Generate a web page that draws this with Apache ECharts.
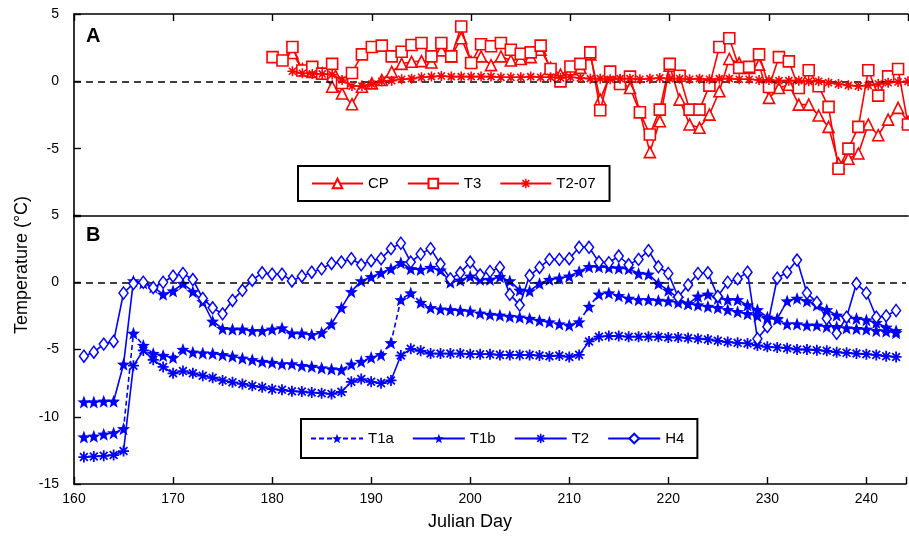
<!DOCTYPE html>
<html><head><meta charset="utf-8">
<script src="https://cdn.jsdelivr.net/npm/echarts@6/dist/echarts.min.js"></script>
<style>html,body{margin:0;padding:0;background:#fff}#c{width:909px;height:536px}</style>
</head><body><div id="c"></div>
<script>
// ---- data ----
const xTicks = [160,170,180,190,200,210,220,230,240];
const yTicksTop = [5,0,-5];
const yTicksBottom = [5,0,-5,-10,-15];

// Panel A (start day for each series, one value per day)
const cpStart = 182;
const cpValues = [2.1,0.9,0.7,0.6,-0.4,-0.9,-1.7,-0.4,-0.15,0.1,0.7,1.3,1.45,1.5,1.4,2.3,1.85,3.2,1.45,1.85,1.2,1.85,1.55,1.66,1.8,2.35,1.0,0.5,0.9,1.0,2.0,-1.36,0.5,0.0,-0.5,-2.3,-5.26,-2.96,1.16,-1.36,-3.2,-3.45,-2.47,-0.74,1.66,1.36,1.0,1.24,-1.23,-0.5,-0.25,-1.73,-1.73,-2.54,-3.38,-6.1,-5.75,-5.36,-3.2,-4.0,-2.84,-1.97,-3.0];
const t3Start = 180;
const t3Values = [1.8,1.55,2.55,0.8,1.07,0.57,1.3,-0.12,0.62,2.0,2.55,2.65,1.85,2.2,2.7,2.85,1.85,2.85,1.85,4.07,1.36,2.75,2.6,2.85,2.35,2.05,2.15,2.65,0.92,0.0,1.1,1.3,2.15,-2.15,0.72,-0.2,0.35,-2.3,-3.95,-2.1,1.3,0.42,-2.1,-2.1,-0.32,2.55,3.2,1.0,1.07,2.0,-0.42,1.8,1.48,-0.5,0.82,-0.37,-1.9,-6.49,-5.0,-3.38,0.82,-1.06,0.37,0.92,-3.2];
const t207Start = 182;
const t207Values = [0.75,0.6,0.55,0.55,0.5,0.1,-0.35,-0.35,-0.2,0.0,0.05,0.15,0.2,0.3,0.35,0.4,0.35,0.35,0.35,0.35,0.35,0.3,0.3,0.3,0.35,0.3,0.3,0.25,0.3,0.25,0.2,0.2,0.15,0.2,0.2,0.15,0.2,0.25,0.2,0.2,0.15,0.2,0.15,0.2,0.2,0.15,0.15,0.1,0.1,0.05,0.05,0.05,0.0,0.0,-0.1,-0.2,-0.3,-0.35,-0.3,-0.2,-0.1,-0.05,0.0];

// Panel B
const bStart = 161;
const t1aValues = [-11.5,-11.45,-11.3,-11.2,-10.9,-3.8,-4.7,-5.3,-5.45,-5.6,-5.0,-5.2,-5.27,-5.3,-5.4,-5.5,-5.65,-5.77,-5.9,-5.97,-6.07,-6.07,-6.2,-6.27,-6.37,-6.45,-6.5,-6.1,-5.9,-5.6,-5.4,-4.5,-1.3,-0.8,-1.5,-1.9,-2.0,-2.05,-2.1,-2.15,-2.3,-2.4,-2.45,-2.55,-2.6,-2.7,-2.85,-2.95,-3.1,-3.2,-2.95,-1.8,-0.9,-0.8,-1.0,-1.2,-1.3,-1.3,-1.35,-1.4,-1.5,-1.6,-1.7,-1.8,-1.9,-2.05,-2.2,-2.35,-2.5,-2.7,-2.75,-3.1,-3.1,-3.2,-3.2,-3.3,-3.3,-3.4,-3.45,-3.5,-3.6,-3.65,-3.75];
const t1bValues = [-8.9,-8.9,-8.85,-8.85,-6.1,0.1,-0.05,-0.35,-0.9,-0.65,-0.1,-0.7,-1.45,-2.9,-3.45,-3.5,-3.5,-3.6,-3.6,-3.5,-3.4,-3.8,-3.8,-3.9,-3.75,-3.1,-1.9,-0.7,0.1,0.4,0.7,1.0,1.45,1.0,0.95,1.1,0.9,0.0,0.15,0.45,0.2,0.2,0.4,0.1,-0.6,-0.65,-0.1,0.2,0.3,0.45,0.8,1.15,1.15,1.1,1.05,1.0,0.65,0.6,-0.1,-0.6,-1.2,-1.6,-1.05,-0.9,-1.2,-1.3,-1.3,-1.7,-2.05,-2.6,-2.7,-1.4,-1.2,-1.4,-1.7,-2.05,-2.45,-2.6,-2.7,-2.8,-3.0,-3.35,-3.6];
const t2Values = [-13.0,-12.95,-12.9,-12.85,-12.55,-6.2,-5.07,-5.77,-6.3,-6.77,-6.6,-6.77,-6.95,-7.1,-7.3,-7.44,-7.56,-7.7,-7.8,-7.95,-8.0,-8.1,-8.13,-8.2,-8.25,-8.3,-8.15,-7.4,-7.2,-7.4,-7.5,-7.3,-5.45,-4.95,-5.1,-5.3,-5.3,-5.3,-5.3,-5.35,-5.35,-5.35,-5.4,-5.4,-5.4,-5.4,-5.45,-5.5,-5.45,-5.55,-5.4,-4.4,-4.05,-4.0,-4.0,-4.05,-4.05,-4.05,-4.05,-4.1,-4.1,-4.15,-4.2,-4.25,-4.35,-4.45,-4.5,-4.55,-4.7,-4.8,-4.85,-4.9,-5.0,-5.0,-5.05,-5.1,-5.2,-5.25,-5.3,-5.35,-5.4,-5.5,-5.55];
const h4Values = [-5.5,-5.2,-4.6,-4.4,-0.8,-0.1,0.0,-0.4,0.0,0.45,0.65,0.2,-1.2,-1.9,-2.35,-1.35,-0.6,0.15,0.7,0.6,0.6,0.1,0.45,0.75,1.0,1.4,1.5,1.75,1.3,1.6,1.75,2.5,2.9,1.5,2.1,2.5,1.35,0.25,0.7,1.5,0.55,0.8,1.1,-0.9,-1.7,0.5,1.1,1.7,1.7,1.75,2.6,2.6,1.5,1.45,1.95,1.3,1.7,2.35,1.15,0.65,-1.1,-0.2,0.65,0.7,-1.05,0.0,0.25,0.75,-4.2,-3.3,0.3,0.75,1.65,-0.8,-1.5,-2.7,-3.8,-2.6,-0.1,-0.8,-2.6,-2.5,-2.1];

// ---- helpers (marker shapes, pairing) ----
function pairs(start, vals){ return vals.map((v,i)=>[start+i, v]); }
function starPath(){
  const p=[]; for(let i=0;i<10;i++){const r=i%2===0?1:0.42; const a=-Math.PI/2+i*Math.PI/5; p.push((r*Math.cos(a)).toFixed(3)+','+(r*Math.sin(a)).toFixed(3));}
  return 'path://M'+p.join(' L')+' Z';
}
function asteriskPath(n,w){
  let s='path://';
  for(let k=0;k<n;k++){const t=k*Math.PI/n, c=Math.cos(t), si=Math.sin(t);
    const pts=[[-1,-w],[1,-w],[1,w],[-1,w]].map(([x,y])=>[(x*c-y*si).toFixed(3),(x*si+y*c).toFixed(3)]);
    s+='M'+pts.map(q=>q.join(',')).join(' L')+' Z ';}
  return s.trim();
}
const STAR = starPath();
const AST = asteriskPath(4,0.16);
const RED='#ff0000', BLUE='#0000ff';
const FONT='Liberation Sans, Arial, sans-serif';

const zeroLine = {silent:true, symbol:'none', label:{show:false},
  lineStyle:{type:[7,5], color:'#000', width:1.6}, data:[{yAxis:0}], animation:false};

function xAx(grid, pos, showLabel){
  return {type:'value', gridIndex:grid, position:pos, min:160, max:244, interval:10,
    axisLine:{show:true, onZero:false, lineStyle:{color:'#000', width:1.6}},
    axisTick:{show:showLabel!==null, inside:true, length:7, lineStyle:{color:'#000', width:1.4}},
    axisLabel:{show:!!showLabel, margin:8, color:'#000', fontSize:14, fontFamily:FONT,
      formatter:v=> (xTicks.includes(v)) ? String(v) : ''},
    splitLine:{show:false}};
}

const chart = echarts.init(document.getElementById('c'), null, {renderer:'canvas'});
chart.setOption({
  animation:false,
  backgroundColor:'#fff',
  grid:[{left:74, right:1, top:14, height:202},{left:74, right:1, top:215, height:269}],
  xAxis:[ xAx(0,'bottom',null), xAx(0,'top',false), xAx(1,'bottom',true) ],
  yAxis:[
    {type:'value', gridIndex:0, min:-10, max:5, interval:5,
     axisLine:{show:true, lineStyle:{color:'#000', width:1.6}},
     axisTick:{show:true, inside:true, length:7, lineStyle:{color:'#000', width:1.4}},
     axisLabel:{margin:15, color:'#000', fontSize:14, fontFamily:FONT, formatter:v=> yTicksTop.includes(v)? String(v):''},
     splitLine:{show:false}},
    {type:'value', gridIndex:1, min:-15, max:5, interval:5,
     axisLine:{show:true, lineStyle:{color:'#000', width:1.6}},
     axisTick:{show:true, inside:true, length:7, lineStyle:{color:'#000', width:1.4}},
     axisLabel:{margin:15, color:'#000', fontSize:14, fontFamily:FONT, formatter:v=> yTicksBottom.includes(v)? String(v):''},
     splitLine:{show:false}}
  ],
  legend:[
    {left:298, top:166, orient:'horizontal', selectedMode:false, itemWidth:51, itemHeight:12, itemGap:18,
     padding:[10,14,10,13], borderColor:'#000', borderWidth:2, backgroundColor:'#fff',
     textStyle:{color:'#000', fontSize:15, fontFamily:FONT}, data:['CP','T3','T2-07']},
    {left:301, top:419, orient:'horizontal', selectedMode:false, itemWidth:52, itemHeight:12, itemGap:18,
     padding:[12,13,12,9], borderColor:'#000', borderWidth:2, backgroundColor:'#fff',
     textStyle:{color:'#000', fontSize:15, fontFamily:FONT}, data:['T1a','T1b','T2','H4']}
  ],
  series:[
    {name:'CP', type:'line', xAxisIndex:0, yAxisIndex:0, data:pairs(cpStart,cpValues),
     symbol:'triangle', symbolSize:11, lineStyle:{color:RED, width:1.6},
     itemStyle:{color:'#fff', borderColor:RED, borderWidth:1.6}, markLine:zeroLine, z:3},
    {name:'T3', type:'line', xAxisIndex:0, yAxisIndex:0, data:pairs(t3Start,t3Values),
     symbol:'rect', symbolSize:11, lineStyle:{color:RED, width:1.6},
     itemStyle:{color:'#fff', borderColor:RED, borderWidth:1.6}, z:4},
    {name:'T2-07', type:'line', xAxisIndex:0, yAxisIndex:0, data:pairs(t207Start,t207Values),
     symbol:AST, symbolSize:10, lineStyle:{color:RED, width:1.6},
     itemStyle:{color:RED}, z:5},
    {name:'T1a', type:'line', xAxisIndex:2, yAxisIndex:1, data:pairs(bStart,t1aValues),
     symbol:STAR, symbolSize:13, lineStyle:{color:BLUE, width:1.6, type:[5,3]},
     itemStyle:{color:BLUE}, markLine:zeroLine, z:3},
    {name:'T1b', type:'line', xAxisIndex:2, yAxisIndex:1, data:pairs(bStart,t1bValues),
     symbol:STAR, symbolSize:13, lineStyle:{color:BLUE, width:1.6},
     itemStyle:{color:BLUE}, z:4},
    {name:'T2', type:'line', xAxisIndex:2, yAxisIndex:1, data:pairs(bStart,t2Values),
     symbol:AST, symbolSize:11, lineStyle:{color:BLUE, width:1.6},
     itemStyle:{color:BLUE}, z:4},
    {name:'H4', type:'line', xAxisIndex:2, yAxisIndex:1, data:pairs(bStart,h4Values),
     symbol:'diamond', symbolSize:[9,12], lineStyle:{color:BLUE, width:1.6},
     itemStyle:{color:'#fff', borderColor:BLUE, borderWidth:1.5}, z:5}
  ],
  graphic:[
    {type:'text', left:86, top:26, style:{text:'A', font:'bold 20px '+FONT, fill:'#000'}},
    {type:'text', left:86, top:225, style:{text:'B', font:'bold 20px '+FONT, fill:'#000'}},
    {type:'text', x:470, y:522, style:{text:'Julian Day', font:'18px '+FONT, fill:'#000', align:'center', verticalAlign:'middle'}},
    {type:'text', x:22, y:265, rotation:Math.PI/2, style:{text:'Temperature (°C)', font:'18px '+FONT, fill:'#000', align:'center', verticalAlign:'middle'}}
  ]
});
</script></body></html>
